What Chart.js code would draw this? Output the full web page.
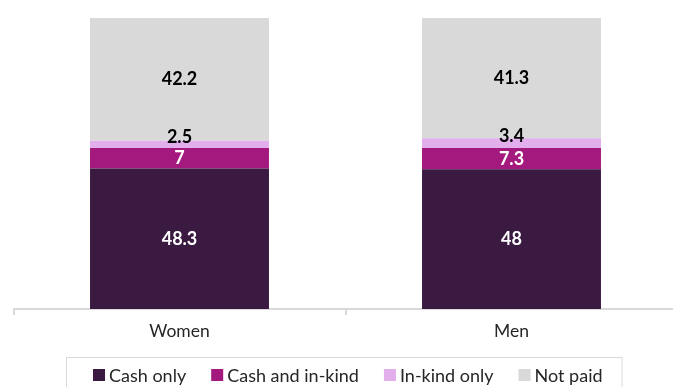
<!DOCTYPE html>
<html lang="en">
<head>
    <meta charset="UTF-8">
    <title>Payment type by sex</title>
    <style>
        body {
            margin: 0;
            overflow: hidden;
            background: #ffffff;
        }
        #payChart {
            display: block;
        }
    </style>
</head>
<body>

    <canvas id="payChart" width="691" height="387"></canvas>

    <script src="https://cdn.jsdelivr.net/npm/chart.js"></script>

    <script>
        // Datos
        const categories = ['Women', 'Men'];
        const cashOnly = [48.3, 48];
        const cashInKind = [7, 7.3];
        const inKindOnly = [2.5, 3.4];
        const notPaid = [42.2, 41.3];

        const fontFamily = "Lato, 'Open Sans', sans-serif";

        // Etiquetas de valor dentro de cada segmento
        const segmentLabels = {
            id: 'segmentLabels',
            afterDatasetsDraw(chart) {
                const ctx = chart.ctx;
                ctx.save();
                ctx.font = 'bold 18px ' + fontFamily;
                ctx.textAlign = 'center';
                ctx.textBaseline = 'middle';
                chart.data.datasets.forEach((ds, i) => {
                    const meta = chart.getDatasetMeta(i);
                    meta.data.forEach((bar, j) => {
                        const mid = (bar.y + bar.base) / 2;
                        ctx.fillStyle = ds.labelColor;
                        ctx.fillText(String(ds.data[j]), bar.x, mid + (ds.labelShift || 0));
                    });
                });
                ctx.restore();
            }
        };

        // Leyenda con marco, debajo del eje
        const boxedLegend = {
            id: 'boxedLegend',
            afterDraw(chart) {
                const ctx = chart.ctx;
                const area = chart.chartArea;
                const box = 12, textGap = 4, itemGap = 25;
                const midY = 375;
                ctx.save();
                ctx.font = '18px ' + fontFamily;
                ctx.textBaseline = 'middle';
                const items = chart.data.datasets.map(ds => ({
                    text: ds.label,
                    color: ds.backgroundColor,
                    w: box + textGap + ctx.measureText(ds.label).width
                }));
                const total = items.reduce((s, it) => s + it.w, 0) + itemGap * (items.length - 1);
                let x = Math.round((area.left + area.right) / 2 - total / 2) + 2;

                // marco
                ctx.strokeStyle = '#d9d9d9';
                ctx.lineWidth = 1;
                ctx.strokeRect(x - 26.5, 357.5, total + 46, 60);

                items.forEach(it => {
                    ctx.fillStyle = it.color;
                    ctx.fillRect(x, midY - box / 2, box, box);
                    ctx.fillStyle = '#262626';
                    ctx.fillText(it.text, x + box + textGap, midY + 1);
                    x += it.w + itemGap;
                });
                ctx.restore();
            }
        };

        const payChart = new Chart(document.getElementById('payChart'), {
            type: 'bar',
            data: {
                labels: categories,
                datasets: [
                    { label: 'Cash only', data: cashOnly, backgroundColor: '#3b1a42', labelColor: '#ffffff' },
                    { label: 'Cash and in-kind', data: cashInKind, backgroundColor: '#a3197e', labelColor: '#ffffff' },
                    { label: 'In-kind only', data: inKindOnly, backgroundColor: '#e2aeec', labelColor: '#000000', labelShift: -7 },
                    { label: 'Not paid', data: notPaid, backgroundColor: '#d9d9d9', labelColor: '#000000' }
                ]
            },
            options: {
                responsive: false,
                animation: false,
                barPercentage: 1,
                categoryPercentage: 0.539,
                layout: {
                    padding: { top: 18, left: 13.5, right: 13.5, bottom: 39 }
                },
                plugins: {
                    tooltip: { enabled: false },
                    legend: { display: false }
                },
                scales: {
                    x: {
                        stacked: true,
                        grid: {
                            offset: true,
                            drawOnChartArea: false,
                            drawTicks: true,
                            tickLength: 6,
                            color: '#d9d9d9',
                            lineWidth: 2
                        },
                        border: { display: true, color: '#d9d9d9', width: 2 },
                        ticks: {
                            color: '#262626',
                            padding: 6,
                            font: { family: fontFamily, size: 17.5 }
                        }
                    },
                    y: {
                        stacked: true,
                        display: false,
                        min: 0,
                        max: 100
                    }
                }
            },
            plugins: [segmentLabels, boxedLegend]
        });
    </script>

</body>
</html>
